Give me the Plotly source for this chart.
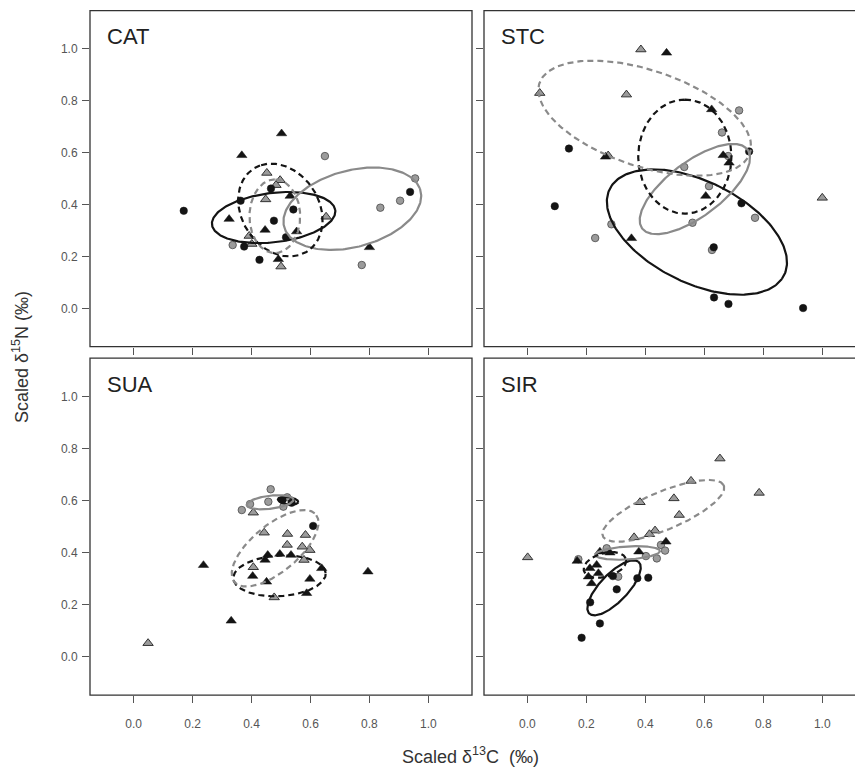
import numpy as np
import plotly.graph_objects as go

# ---------------- data: scaled d13C (x), scaled d15N (y) ----------------
panel_names = ["CAT", "STC", "SUA", "SIR"]
tick_vals = [0.0, 0.2, 0.4, 0.6, 0.8, 1.0]
tick_text = ["0.0", "0.2", "0.4", "0.6", "0.8", "1.0"]

# CAT
cat_bc_x = [0.170, 0.466, 0.363, 0.542, 0.476, 0.517, 0.375, 0.427, 0.938]
cat_bc_y = [0.376, 0.462, 0.415, 0.381, 0.338, 0.274, 0.238, 0.187, 0.449]
cat_gc_x = [0.649, 0.955, 0.904, 0.837, 0.774, 0.336]
cat_gc_y = [0.587, 0.501, 0.415, 0.388, 0.167, 0.244]
cat_bt_x = [0.502, 0.367, 0.531, 0.324, 0.446, 0.553, 0.491, 0.800]
cat_bt_y = [0.674, 0.590, 0.433, 0.344, 0.302, 0.296, 0.189, 0.235]
cat_gt_x = [0.452, 0.497, 0.483, 0.448, 0.653, 0.392, 0.401, 0.500]
cat_gt_y = [0.522, 0.494, 0.475, 0.420, 0.353, 0.279, 0.248, 0.161]

# STC
stc_bc_x = [0.141, 0.093, 0.752, 0.726, 0.632, 0.633, 0.682, 0.935]
stc_bc_y = [0.616, 0.394, 0.605, 0.405, 0.235, 0.042, 0.017, 0.001]
stc_gc_x = [0.718, 0.660, 0.681, 0.532, 0.616, 0.772, 0.560, 0.285, 0.230, 0.626]
stc_gc_y = [0.763, 0.678, 0.587, 0.545, 0.471, 0.349, 0.330, 0.324, 0.271, 0.225]
stc_bt_x = [0.472, 0.625, 0.664, 0.684, 0.605, 0.353, 0.265]
stc_bt_y = [0.985, 0.767, 0.590, 0.561, 0.433, 0.270, 0.584]
stc_gt_x = [0.385, 0.042, 0.336, 0.274, 1.000]
stc_gt_y = [0.998, 0.830, 0.824, 0.589, 0.426]

# SUA
sua_bc_x = [0.536, 0.505, 0.609]
sua_bc_y = [0.592, 0.603, 0.503]
sua_gc_x = [0.465, 0.367, 0.395, 0.457, 0.521, 0.508]
sua_gc_y = [0.644, 0.564, 0.587, 0.596, 0.613, 0.577]
sua_bt_x = [0.496, 0.534, 0.455, 0.446, 0.638, 0.404, 0.451, 0.598, 0.587, 0.237, 0.331, 0.795]
sua_bt_y = [0.395, 0.391, 0.391, 0.372, 0.340, 0.310, 0.288, 0.299, 0.244, 0.352, 0.138, 0.327]
sua_gt_x = [0.406, 0.443, 0.522, 0.583, 0.521, 0.572, 0.598, 0.578, 0.406, 0.477, 0.049]
sua_gt_y = [0.554, 0.477, 0.472, 0.468, 0.430, 0.423, 0.410, 0.372, 0.344, 0.228, 0.052]

# SIR
sir_bc_x = [0.184, 0.246, 0.213, 0.303, 0.373, 0.410, 0.290]
sir_bc_y = [0.073, 0.128, 0.209, 0.259, 0.302, 0.304, 0.310]
sir_gc_x = [0.269, 0.173, 0.453, 0.467, 0.439, 0.402, 0.308]
sir_gc_y = [0.417, 0.375, 0.430, 0.408, 0.378, 0.387, 0.308]
sir_bt_x = [0.470, 0.378, 0.246, 0.169, 0.235, 0.212, 0.207, 0.241, 0.218, 0.280]
sir_bt_y = [0.442, 0.404, 0.404, 0.368, 0.353, 0.340, 0.308, 0.321, 0.282, 0.400]
sir_gt_x = [0.001, 0.653, 0.786, 0.555, 0.497, 0.382, 0.515, 0.433, 0.414, 0.362]
sir_gt_y = [0.382, 0.762, 0.630, 0.676, 0.609, 0.594, 0.545, 0.485, 0.471, 0.459]

# Standard ellipses: (group, cx, cy, semi-major, semi-minor, angle deg)
cat_ellipses = [("bc", 0.475, 0.350, 0.211, 0.095, 8), ("gc", 0.742, 0.384, 0.242, 0.146, 19),
                ("bt", 0.498, 0.379, 0.185, 0.135, 112), ("gt", 0.479, 0.355, 0.142, 0.086, 90)]
stc_ellipses = [("bc", 0.575, 0.294, 0.340, 0.190, -32), ("gc", 0.568, 0.460, 0.235, 0.100, 42),
                ("bt", 0.534, 0.585, 0.220, 0.158, 90), ("gt", 0.398, 0.733, 0.382, 0.183, -22)]
sua_ellipses = [("bc", 0.524, 0.600, 0.035, 0.014, -10), ("gc", 0.463, 0.594, 0.080, 0.025, 8),
                ("bt", 0.495, 0.311, 0.157, 0.078, 4), ("gt", 0.480, 0.417, 0.190, 0.085, 45)]
sir_ellipses = [("bc", 0.294, 0.265, 0.130, 0.050, 51), ("gc", 0.340, 0.399, 0.110, 0.025, 4),
                ("bt", 0.263, 0.353, 0.075, 0.045, 20), ("gt", 0.461, 0.561, 0.227, 0.072, 26)]

panel_points = {
    "CAT": {"bc": (cat_bc_x, cat_bc_y), "gc": (cat_gc_x, cat_gc_y), "bt": (cat_bt_x, cat_bt_y), "gt": (cat_gt_x, cat_gt_y)},
    "STC": {"bc": (stc_bc_x, stc_bc_y), "gc": (stc_gc_x, stc_gc_y), "bt": (stc_bt_x, stc_bt_y), "gt": (stc_gt_x, stc_gt_y)},
    "SUA": {"bc": (sua_bc_x, sua_bc_y), "gc": (sua_gc_x, sua_gc_y), "bt": (sua_bt_x, sua_bt_y), "gt": (sua_gt_x, sua_gt_y)},
    "SIR": {"bc": (sir_bc_x, sir_bc_y), "gc": (sir_gc_x, sir_gc_y), "bt": (sir_bt_x, sir_bt_y), "gt": (sir_gt_x, sir_gt_y)},
}
panel_ellipses = {"CAT": cat_ellipses, "STC": stc_ellipses, "SUA": sua_ellipses, "SIR": sir_ellipses}

# ---------------- styles ----------------
W, H = 855, 767
FONT = "Liberation Sans, Arial, Helvetica, sans-serif"
BLACK = "#141414"
GRAY_FILL = "#9b9b9b"
GRAY_LINE = "#8a8a8a"

marker_style = {
    "gc": dict(symbol="circle", size=7.5, color=GRAY_FILL, line=dict(color="#4a4a4a", width=0.8)),
    "gt": dict(symbol="triangle-up", size=9, color=GRAY_FILL, line=dict(color="#333333", width=1)),
    "bc": dict(symbol="circle", size=7.5, color=BLACK, line=dict(color=BLACK, width=0.5)),
    "bt": dict(symbol="triangle-up", size=9, color=BLACK, line=dict(color=BLACK, width=0.5)),
}
ellipse_style = {
    "bc": dict(color=BLACK, width=2.2, dash="solid"),
    "gc": dict(color=GRAY_LINE, width=2.2, dash="solid"),
    "bt": dict(color=BLACK, width=2.2, dash="6px,4px"),
    "gt": dict(color=GRAY_LINE, width=2.2, dash="6px,4px"),
}

# layout geometry (pixels -> paper)
left_x = [90 / W, 472 / W]
right_x = [484 / W, 1.0]
top_y = [1 - 346.7 / H, 1 - 10.6 / H]
bot_y = [1 - 695.2 / H, 1 - 358.2 / H]
panel_geom = {
    "CAT": (1, left_x, top_y, [-0.148, 1.148]),
    "STC": (2, right_x, top_y, [-0.147, 1.111]),
    "SUA": (3, left_x, bot_y, [-0.148, 1.148]),
    "SIR": (4, right_x, bot_y, [-0.147, 1.111]),
}

fig = go.Figure()
t = np.linspace(0, 2 * np.pi, 241)

for name in panel_names:
    idx, dx, dy, xr = panel_geom[name]
    xa = "x" if idx == 1 else f"x{idx}"
    ya = "y" if idx == 1 else f"y{idx}"
    for g in ["gc", "gt", "bc", "bt"]:
        px, py = panel_points[name][g]
        fig.add_trace(go.Scatter(x=px, y=py, mode="markers", marker=marker_style[g],
                                 xaxis=xa, yaxis=ya, showlegend=False, hoverinfo="skip"))
    for (g, cx, cy, a, b, th) in panel_ellipses[name]:
        r = np.deg2rad(th)
        ex = cx + a * np.cos(t) * np.cos(r) - b * np.sin(t) * np.sin(r)
        ey = cy + a * np.cos(t) * np.sin(r) + b * np.sin(t) * np.cos(r)
        fig.add_trace(go.Scatter(x=ex, y=ey, mode="lines", line=ellipse_style[g],
                                 xaxis=xa, yaxis=ya, showlegend=False, hoverinfo="skip"))

layout = dict(width=W, height=H, margin=dict(l=0, r=0, t=0, b=0),
              paper_bgcolor="white", plot_bgcolor="white", showlegend=False)
shapes = []
annotations = []
for name in panel_names:
    idx, dx, dy, xr = panel_geom[name]
    sfx = "" if idx == 1 else str(idx)
    bottom_row = idx in (3, 4)
    left_col = idx in (1, 3)
    layout[f"xaxis{sfx}"] = dict(
        domain=dx, range=xr, anchor="y" + sfx, showgrid=False, zeroline=False, showline=False,
        tickvals=tick_vals, ticktext=tick_text, ticks="outside", ticklen=7, tickwidth=1,
        tickcolor="#555555", showticklabels=bottom_row, ticklabelstandoff=10,
        tickfont=dict(family=FONT, size=12, color="#555555"), fixedrange=True)
    layout[f"yaxis{sfx}"] = dict(
        domain=dy, range=[-0.148, 1.148], anchor="x" + sfx, showgrid=False, zeroline=False,
        showline=False, tickvals=tick_vals, ticktext=tick_text, ticks="outside", ticklen=7,
        tickwidth=1, tickcolor="#555555", showticklabels=left_col, ticklabelstandoff=2,
        tickfont=dict(family=FONT, size=12, color="#555555"), fixedrange=True)
    x0, x1 = dx
    y0, y1 = dy
    if left_col:
        shapes.append(dict(type="rect", xref="paper", yref="paper", x0=x0, x1=x1, y0=y0, y1=y1,
                           line=dict(color="#333333", width=1.3), layer="above"))
    else:
        shapes.append(dict(type="path", xref="paper", yref="paper",
                           path=f"M 1.01,{y0} L {x0},{y0} L {x0},{y1} L 1.01,{y1}",
                           line=dict(color="#333333", width=1.3), layer="above"))
    annotations.append(dict(text=name, xref="paper", yref="paper",
                            x=x0 + 15 / W, y=y1 - 26 / H, xanchor="left", yanchor="middle",
                            showarrow=False, font=dict(family=FONT, size=22, color="#222222")))

annotations.append(dict(text="Scaled δ<sup>13</sup>C  (‰)", xref="paper", yref="paper",
                        x=470 / W, y=1 - 755 / H, xanchor="center", yanchor="middle",
                        showarrow=False, font=dict(family=FONT, size=18, color="#333333")))
annotations.append(dict(text="Scaled δ<sup>15</sup>N (‰)", xref="paper", yref="paper",
                        x=21 / W, y=1 - 357 / H, xanchor="center", yanchor="middle", textangle=-90,
                        showarrow=False, font=dict(family=FONT, size=18, color="#333333")))
layout["shapes"] = shapes
layout["annotations"] = annotations
fig.update_layout(**layout)
fig.write_html("out.html")
